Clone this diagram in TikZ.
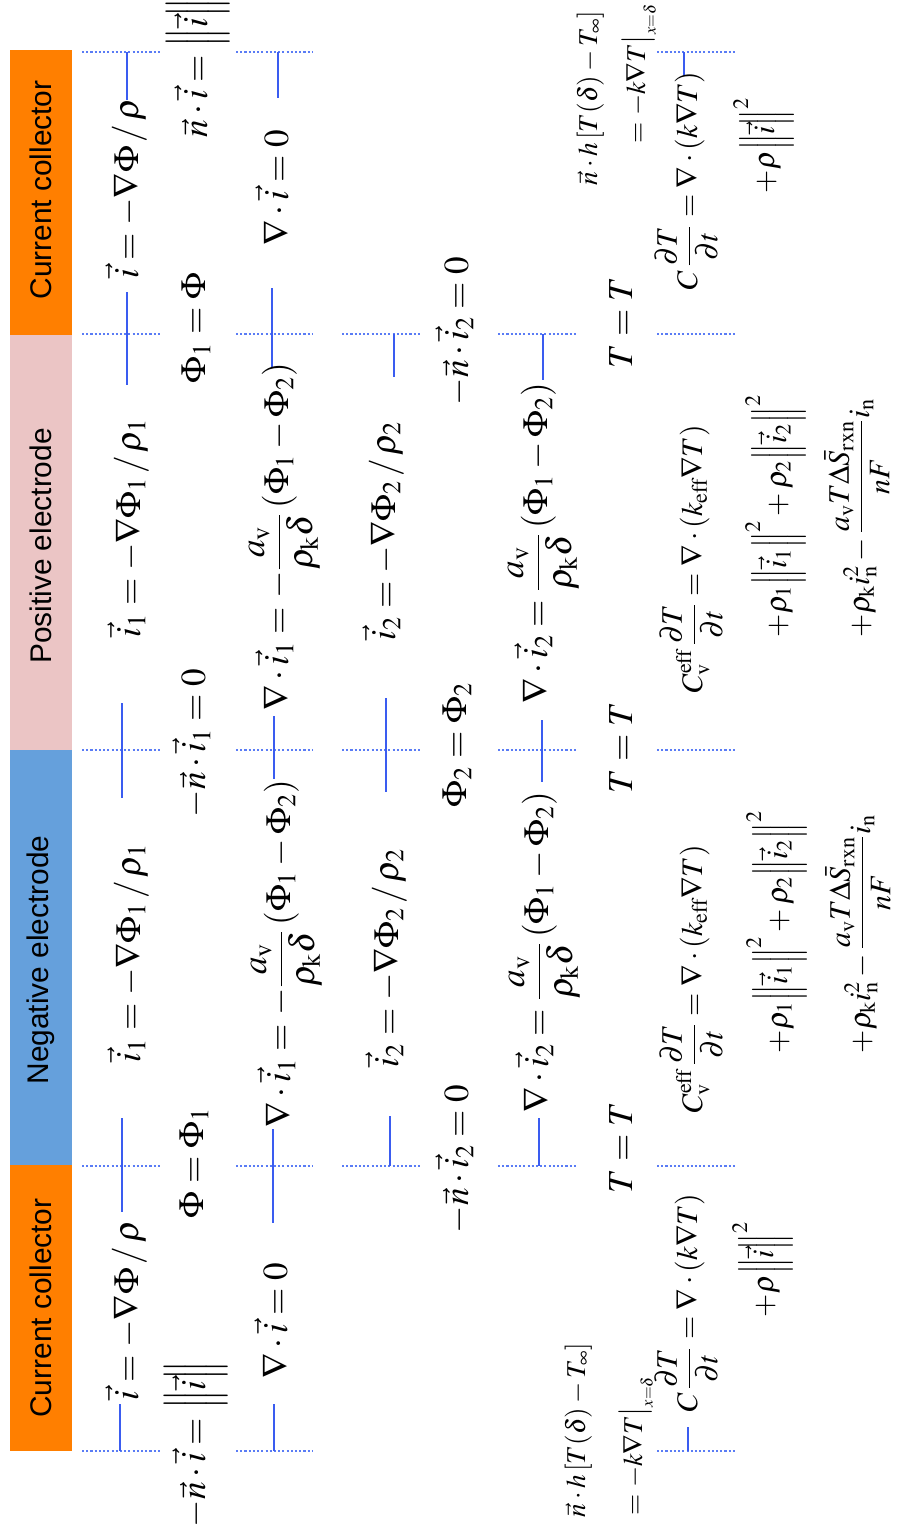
\documentclass[tikz,border=0pt]{standalone}
\usepackage{amsmath}
\usepackage{mathptmx}
\usepackage[no-math]{fontspec}
\newfontfamily\lblfont{Liberation Sans}
\usetikzlibrary{positioning}
\definecolor{collector}{HTML}{FF7F00}
\definecolor{negel}{HTML}{65A0DC}
\definecolor{posel}{HTML}{EBC5C5}
\definecolor{wireblue}{HTML}{3A5CF0}
\definecolor{dotblue}{HTML}{5A7CF5}
\newcommand{\ivec}{\vec{i}}
\newcommand{\nvec}{\vec{n}}

\begin{document}
\begin{tikzpicture}[
    x=0.02cm,y=-0.02cm,
    every node/.style={inner sep=0pt,outer sep=0pt},
    lbl/.style={rotate=90,font=\lblfont\fontsize{17}{20}\selectfont},
    eq/.style={rotate=90,anchor=base west,font=\fontsize{20}{24}\selectfont},
    heq/.style={eq,font=\fontsize{17}{20}\selectfont},
    flux/.style={eq,font=\fontsize{15.5}{18}\selectfont},
    bnd/.style={dotblue,line width=0.6pt,dash pattern=on 1.2pt off 1.2pt},
    wire/.style={wireblue,line width=0.7pt},
  ]
  \useasboundingbox (0,0) rectangle (898,1535);

  % layer bars
  \fill[collector] (10,1165) rectangle (72,1451);
  \fill[negel] (10,750) rectangle (72,1165);
  \fill[posel] (10,335) rectangle (72,750);
  \fill[collector] (10,50) rectangle (72,335);
  \node[lbl] (ccL) at (41,1308) {Current collector};
  \node[lbl] (ne) at (41,960) {Negative electrode};
  \node[lbl] (pe) at (41,546) {Positive electrode};
  \node[lbl] (ccR) at (41,190) {Current collector};

  % interfaces
  \foreach \y in {52,334,750,1166,1451}
    \draw[bnd] (82,\y) -- (160,\y) (236,\y) -- (313,\y) (657,\y) -- (735,\y);
  \foreach \y in {334,750,1166}
    \draw[bnd] (342,\y) -- (420,\y) (498,\y) -- (576,\y);

  % links across interfaces
  \foreach \x/\a/\b in {120/1404/1451, 122/1118/1212, 122/703/798, 127/292/385, 127/52/100,
      274/1404/1451, 273/1129/1223, 274/716/779, 272/288/367, 278/52/98,
      390/1116/1166, 386/698/792, 394/334/377,
      539/1118/1166, 542/720/782, 543/334/380,
      688/1427/1451, 684/52/76}
    \draw[wire] (\x,\a) -- (\x,\b);

  % current
  \node[eq] (ccL1) at (138,1400) {$\ivec=-\nabla\Phi\,/\,\rho$};
  \node[eq] (ne1) at (140,1062) {$\ivec_1=-\nabla\Phi_1\,/\,\rho_1$};
  \node[eq] (pe1) at (140,637) {$\ivec_1=-\nabla\Phi_1\,/\,\rho_1$};
  \node[eq] (ccR1) at (138,278) {$\ivec=-\nabla\Phi\,/\,\rho$};

  \node[eq] (ccL2) at (205,1527) {$-\nvec\cdot\ivec=\Bigl\|\ivec\Bigr\|$};
  \node[eq] (ccLne2) at (203,1218) {$\Phi=\Phi_1$};
  \node[eq] (nepe2) at (205,817) {$-\nvec\cdot\ivec_1=0$};
  \node[eq] (peccR2) at (205,383) {$\Phi_1=\Phi$};
  \node[eq] (ccR2) at (207,137) {$\nvec\cdot\ivec=\Bigl\|\ivec\Bigr\|$};

  \node[eq] (ccL3) at (287,1378) {$\nabla\cdot\ivec=0$};
  \node[eq] (ne3) at (290,1127)
    {$\nabla\cdot\ivec_1=-\dfrac{a_\mathrm{v}}{\rho_\mathrm{k}\delta}\left(\Phi_1-\Phi_2\right)$};
  \node[eq] (pe3) at (288,710)
    {$\nabla\cdot\ivec_1=-\dfrac{a_\mathrm{v}}{\rho_\mathrm{k}\delta}\left(\Phi_1-\Phi_2\right)$};
  \node[eq] (ccR3) at (288,245) {$\nabla\cdot\ivec=0$};

  % electrolyte
  \node[eq] (ne4) at (398,1067) {$\ivec_2=-\nabla\Phi_2\,/\,\rho_2$};
  \node[eq] (pe4) at (395,640) {$\ivec_2=-\nabla\Phi_2\,/\,\rho_2$};

  \node[eq] (ccLne5) at (468,1233) {$-\nvec\cdot\ivec_2=0$};
  \node[eq] (nepe5) at (466,807) {$\Phi_2=\Phi_2$};
  \node[eq] (peccR5) at (468,405) {$-\nvec\cdot\ivec_2=0$};

  \node[eq] (ne6) at (548,1112)
    {$\nabla\cdot\ivec_2=\dfrac{a_\mathrm{v}}{\rho_\mathrm{k}\delta}\left(\Phi_1-\Phi_2\right)$};
  \node[eq] (pe6) at (547,703)
    {$\nabla\cdot\ivec_2=\dfrac{a_\mathrm{v}}{\rho_\mathrm{k}\delta}\left(\Phi_1-\Phi_2\right)$};

  % temperature
  \node[eq] (ccLne7) at (632,1193) {$T=T$};
  \node[eq] (nepe7) at (632,793) {$T=T$};
  \node[eq] (peccR7) at (632,368) {$T=T$};

  \node[flux] (ccLa) at (585,1517) {$\nvec\cdot h\left[T(\delta)-T_\infty\right]$};
  \node[flux] (ccLb) at (642,1515) {$=-k\nabla T\big|_{\scriptscriptstyle x=\delta}$};
  \node[flux] (ccRa) at (597,185) {$\nvec\cdot h\left[T(\delta)-T_\infty\right]$};
  \node[flux] (ccRb) at (645,143) {$=-k\nabla T\big|_{\scriptscriptstyle x=\delta}$};

  \node[heq] (ccL8) at (697,1412) {$C\,\dfrac{\partial T}{\partial t}=\nabla\cdot\left(k\nabla T\right)$};
  \node[heq] (ccL9) at (773,1317) {$+\rho\Bigl\|\ivec\Bigr\|^2$};
  \node[heq] (ccR8) at (697,290) {$C\,\dfrac{\partial T}{\partial t}=\nabla\cdot\left(k\nabla T\right)$};
  \node[heq] (ccR9) at (774,193) {$+\rho\Bigl\|\ivec\Bigr\|^2$};

  \node[heq] (ne8) at (702,1113)
    {$C_\mathrm{v}^\mathrm{eff}\,\dfrac{\partial T}{\partial t}=\nabla\cdot\left(k_\mathrm{eff}\nabla T\right)$};
  \node[heq] (ne9) at (787,1053)
    {$+\rho_1\Bigl\|\ivec_1\Bigr\|^2+\rho_2\Bigl\|\ivec_2\Bigr\|^2$};
  \node[heq] (ne10) at (870,1053)
    {$+\rho_\mathrm{k}i_\mathrm{n}^2-\dfrac{a_\mathrm{v}T\Delta\bar{S}_\mathrm{rxn}}{nF}i_\mathrm{n}$};
  \node[heq] (pe8) at (702,693)
    {$C_\mathrm{v}^\mathrm{eff}\,\dfrac{\partial T}{\partial t}=\nabla\cdot\left(k_\mathrm{eff}\nabla T\right)$};
  \node[heq] (pe9) at (786,637)
    {$+\rho_1\Bigl\|\ivec_1\Bigr\|^2+\rho_2\Bigl\|\ivec_2\Bigr\|^2$};
  \node[heq] (pe10) at (869,637)
    {$+\rho_\mathrm{k}i_\mathrm{n}^2-\dfrac{a_\mathrm{v}T\Delta\bar{S}_\mathrm{rxn}}{nF}i_\mathrm{n}$};
\end{tikzpicture}
\end{document}
